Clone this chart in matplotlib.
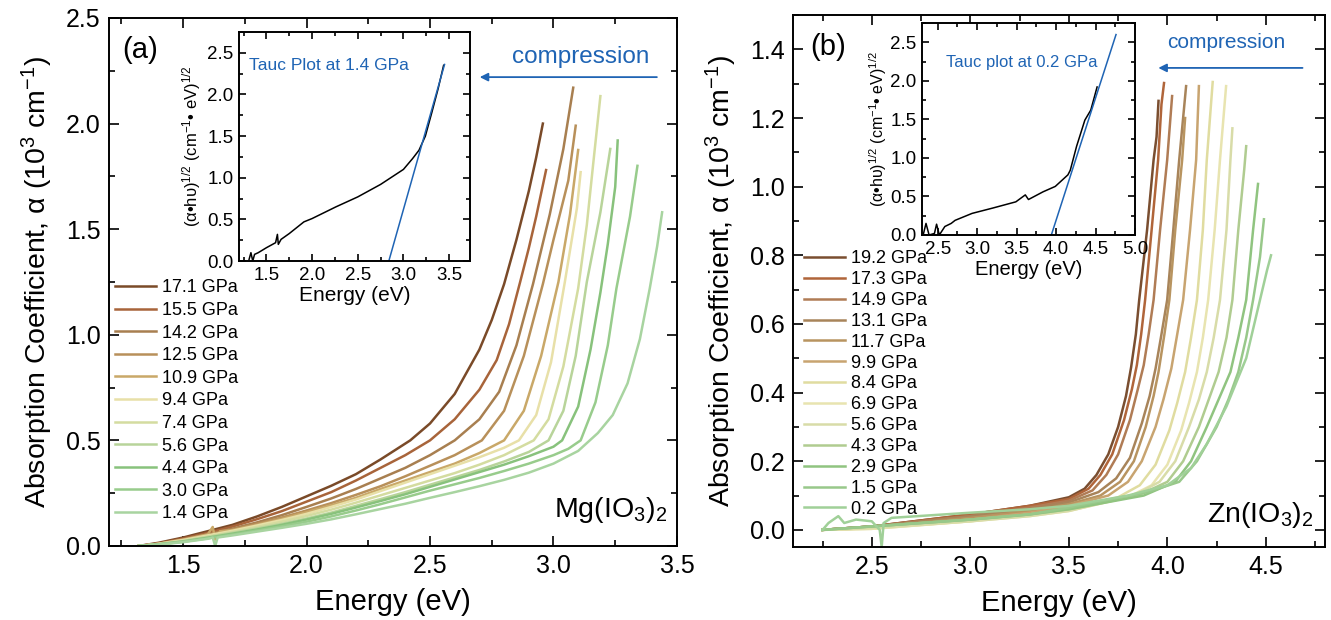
import matplotlib
matplotlib.use("Agg")
import matplotlib.pyplot as plt
from matplotlib.ticker import MultipleLocator

plt.rcParams['font.family'] = ['Liberation Sans', 'DejaVu Sans']
plt.rcParams['mathtext.fontset'] = 'custom'
plt.rcParams['mathtext.rm'] = 'Liberation Sans'
plt.rcParams['mathtext.it'] = 'Liberation Sans:italic'

# ---- Mg(IO3)2, absorption edges (energy in eV, alpha in 10^3 cm^-1)
mg_labels = ['17.1 GPa', '15.5 GPa', '14.2 GPa', '12.5 GPa', '10.9 GPa', '9.4 GPa',
             '7.4 GPa', '5.6 GPa', '4.4 GPa', '3.0 GPa', '1.4 GPa']
mg_energy = [
    [1.32, 1.4, 1.5, 1.6, 1.7, 1.8, 1.9, 2.0, 2.1, 2.2, 2.3, 2.42, 2.5, 2.6, 2.7, 2.75, 2.8,
     2.85, 2.9, 2.93, 2.957],
    [1.32, 1.4, 1.5, 1.6, 1.7, 1.8, 1.9, 2.0, 2.1, 2.2, 2.3, 2.4, 2.5, 2.6, 2.7, 2.77, 2.82,
     2.865, 2.9, 2.93, 2.97],
    [1.32, 1.4, 1.5, 1.6, 1.7, 1.8, 1.9, 2.0, 2.1, 2.2, 2.3, 2.4, 2.5, 2.6, 2.7, 2.78, 2.85,
     2.917, 2.985, 3.04, 3.08],
    [1.32, 1.4, 1.5, 1.6, 1.7, 1.8, 1.9, 2.0, 2.1, 2.2, 2.3, 2.4, 2.5, 2.6, 2.71, 2.8, 2.88,
     2.957, 3.0, 3.06, 3.09],
    [1.32, 1.4, 1.5, 1.6, 1.62, 1.63, 1.65, 1.7, 1.8, 1.9, 2.0, 2.1, 2.2, 2.3, 2.4, 2.5, 2.6,
     2.7, 2.8, 2.88, 2.95, 3.02, 3.067, 3.10],
    [1.32, 1.4, 1.5, 1.6, 1.7, 1.8, 1.9, 2.0, 2.1, 2.2, 2.3, 2.4, 2.5, 2.6, 2.7, 2.8, 2.86,
     2.93, 2.99, 3.046, 3.095, 3.11],
    [1.32, 1.4, 1.5, 1.6, 1.7, 1.8, 1.9, 2.0, 2.1, 2.2, 2.3, 2.4, 2.5, 2.6, 2.7, 2.8, 2.92,
     2.98, 3.04, 3.10, 3.135, 3.16, 3.19],
    [1.32, 1.4, 1.5, 1.6, 1.7, 1.8, 1.9, 2.0, 2.1, 2.2, 2.3, 2.4, 2.5, 2.6, 2.7, 2.8, 2.9,
     2.98, 3.04, 3.09, 3.135, 3.19, 3.23],
    [1.32, 1.4, 1.5, 1.6, 1.7, 1.8, 1.9, 2.0, 2.1, 2.2, 2.3, 2.4, 2.5, 2.6, 2.7, 2.8, 2.9,
     3.0, 3.035, 3.1, 3.15, 3.19, 3.22, 3.25, 3.26],
    [1.32, 1.4, 1.5, 1.6, 1.7, 1.8, 1.9, 2.0, 2.1, 2.2, 2.3, 2.4, 2.5, 2.6, 2.7, 2.8, 2.9,
     3.0, 3.06, 3.11, 3.17, 3.22, 3.255, 3.31, 3.34],
    [1.32, 1.4, 1.5, 1.6, 1.62, 1.63, 1.64, 1.7, 1.8, 1.9, 2.0, 2.1, 2.2, 2.3, 2.4, 2.5, 2.6,
     2.7, 2.8, 2.9, 3.0, 3.1, 3.18, 3.24, 3.3, 3.35, 3.39, 3.42, 3.44],
]
mg_alpha = [
    [0.0, 0.015, 0.04, 0.07, 0.1, 0.14, 0.185, 0.235, 0.285, 0.34, 0.41, 0.5, 0.58, 0.72,
     0.93, 1.07, 1.24, 1.45, 1.68, 1.84, 2.0],
    [0.0, 0.012, 0.035, 0.062, 0.092, 0.127, 0.165, 0.21, 0.255, 0.31, 0.37, 0.43, 0.5, 0.6,
     0.74, 0.88, 1.05, 1.25, 1.41, 1.56, 1.78],
    [0.0, 0.01, 0.03, 0.055, 0.082, 0.112, 0.146, 0.185, 0.225, 0.27, 0.32, 0.37, 0.43, 0.5,
     0.6, 0.73, 0.95, 1.24, 1.57, 1.88, 2.17],
    [0.0, 0.01, 0.03, 0.052, 0.077, 0.105, 0.135, 0.168, 0.203, 0.242, 0.283, 0.33, 0.38,
     0.43, 0.5, 0.64, 0.9, 1.24, 1.45, 1.73, 1.99],
    [0.0, 0.01, 0.03, 0.055, 0.09, 0.03, 0.07, 0.075, 0.1, 0.128, 0.16, 0.193, 0.228, 0.27,
     0.31, 0.35, 0.39, 0.44, 0.5, 0.64, 0.9, 1.25, 1.57, 1.875],
    [0.0, 0.01, 0.028, 0.05, 0.072, 0.097, 0.123, 0.152, 0.185, 0.22, 0.26, 0.3, 0.34, 0.38,
     0.42, 0.465, 0.5, 0.62, 0.87, 1.25, 1.6, 1.77],
    [0.0, 0.008, 0.025, 0.045, 0.067, 0.09, 0.115, 0.142, 0.172, 0.205, 0.24, 0.275, 0.31,
     0.345, 0.385, 0.43, 0.5, 0.6, 0.85, 1.22, 1.52, 1.8, 2.13],
    [0.0, 0.008, 0.023, 0.042, 0.062, 0.083, 0.105, 0.13, 0.158, 0.19, 0.222, 0.255, 0.29,
     0.325, 0.36, 0.4, 0.445, 0.5, 0.64, 0.9, 1.25, 1.58, 1.88],
    [0.0, 0.008, 0.021, 0.039, 0.058, 0.078, 0.1, 0.125, 0.152, 0.182, 0.213, 0.245, 0.28,
     0.315, 0.35, 0.385, 0.425, 0.47, 0.5, 0.66, 0.93, 1.2, 1.43, 1.7, 1.92],
    [0.0, 0.007, 0.02, 0.036, 0.054, 0.073, 0.093, 0.115, 0.14, 0.168, 0.198, 0.23, 0.262,
     0.292, 0.322, 0.355, 0.39, 0.43, 0.46, 0.5, 0.68, 0.95, 1.22, 1.56, 1.80],
    [0.0, 0.006, 0.018, 0.034, 0.04, 0.0, 0.04, 0.05, 0.068, 0.086, 0.105, 0.126, 0.15,
     0.175, 0.2, 0.228, 0.255, 0.283, 0.313, 0.347, 0.39, 0.45, 0.535, 0.62, 0.77, 0.98, 1.22,
     1.42, 1.58],
]
mg_colors = ['#7a4a28', '#a8643a', '#a87f50', '#b8905a', '#c9a868', '#e8e0a8',
             '#d4dca0', '#b8d49a', '#88c27c', '#98cc8c', '#a8d4a0']

# Tauc plot at 1.4 GPa, (alpha*hv)^1/2
mg_tauc_e = [1.31, 1.33, 1.35, 1.37, 1.41, 1.5, 1.6, 1.62, 1.63, 1.66, 1.75, 1.91, 2.0,
             2.26, 2.5, 2.75, 3.0, 3.1, 3.17, 3.24, 3.31, 3.38, 3.44]
mg_tauc_y = [0.02, 0.1, 0.0, 0.08, 0.1, 0.16, 0.22, 0.32, 0.2, 0.26, 0.33, 0.47, 0.51,
             0.65, 0.77, 0.92, 1.1, 1.23, 1.33, 1.5, 1.78, 2.07, 2.35]
mg_fit_e = [2.84, 3.45]
mg_fit_y = [0.0, 2.36]

# ---- Zn(IO3)2
zn_labels = ['19.2 GPa', '17.3 GPa', '14.9 GPa', '13.1 GPa', '11.7 GPa', '9.9 GPa', '8.4 GPa',
             '6.9 GPa', '5.6 GPa', '4.3 GPa', '2.9 GPa', '1.5 GPa', '0.2 GPa']
zn_energy = [
    [2.25, 2.5, 3.0, 3.3, 3.5, 3.58, 3.64, 3.7, 3.75, 3.79, 3.816, 3.84, 3.857, 3.897, 3.93,
     3.945, 3.955],
    [2.25, 2.5, 3.0, 3.3, 3.5, 3.6, 3.66, 3.72, 3.78, 3.82, 3.845, 3.867, 3.887, 3.92, 3.953,
     3.97, 3.983],
    [2.25, 2.5, 3.0, 3.3, 3.5, 3.62, 3.69, 3.75, 3.81, 3.85, 3.88, 3.905, 3.93, 3.963, 3.999,
     4.024],
    [2.25, 2.5, 3.0, 3.3, 3.5, 3.65, 3.74, 3.81, 3.87, 3.91, 3.94, 3.97, 3.999, 4.03, 4.06,
     4.095],
    [2.25, 2.5, 3.0, 3.3, 3.5, 3.66, 3.76, 3.83, 3.89, 3.93, 3.955, 3.985, 4.01, 4.04, 4.075,
     4.09],
    [2.25, 2.5, 3.0, 3.3, 3.5, 3.7, 3.8, 3.87, 3.94, 3.98, 4.02, 4.05, 4.08, 4.115, 4.146,
     4.16],
    [2.25, 2.5, 3.0, 3.3, 3.5, 3.75, 3.86, 3.94, 4.01, 4.05, 4.09, 4.12, 4.15, 4.18, 4.20,
     4.23],
    [2.25, 2.5, 3.0, 3.3, 3.5, 3.8, 3.92, 4.0, 4.07, 4.11, 4.15, 4.18, 4.207, 4.24, 4.267,
     4.298],
    [2.25, 2.5, 3.0, 3.3, 3.5, 3.83, 3.96, 4.04, 4.11, 4.16, 4.2, 4.235, 4.267, 4.30, 4.32,
     4.33],
    [2.25, 2.5, 3.0, 3.3, 3.5, 3.85, 4.0, 4.08, 4.16, 4.21, 4.26, 4.3, 4.33, 4.36, 4.39, 4.40],
    [2.25, 2.5, 3.0, 3.3, 3.5, 3.88, 4.04, 4.12, 4.2, 4.26, 4.32, 4.36, 4.40, 4.435, 4.46],
    [2.25, 2.5, 3.0, 3.3, 3.5, 3.9, 4.06, 4.15, 4.25, 4.31, 4.36, 4.40, 4.435, 4.47, 4.49],
    [2.25, 2.28, 2.33, 2.36, 2.42, 2.5, 2.54, 2.55, 2.56, 2.6, 3.0, 3.3, 3.5, 3.8, 4.0,
     4.12, 4.2, 4.3, 4.4, 4.47, 4.506, 4.526],
]
zn_alpha = [
    [0.0, 0.01, 0.045, 0.07, 0.095, 0.12, 0.16, 0.22, 0.30, 0.39, 0.474, 0.57, 0.67, 0.874,
     1.078, 1.145, 1.25],
    [0.0, 0.01, 0.045, 0.07, 0.09, 0.12, 0.16, 0.22, 0.32, 0.41, 0.48, 0.57, 0.67, 0.874,
     1.078, 1.24, 1.302],
    [0.0, 0.01, 0.04, 0.065, 0.085, 0.115, 0.16, 0.22, 0.32, 0.41, 0.48, 0.57, 0.67, 0.874,
     1.078, 1.264],
    [0.0, 0.01, 0.04, 0.06, 0.08, 0.11, 0.15, 0.21, 0.31, 0.39, 0.47, 0.57, 0.67, 0.874,
     1.078, 1.293],
    [0.0, 0.008, 0.035, 0.055, 0.075, 0.1, 0.14, 0.2, 0.3, 0.39, 0.46, 0.57, 0.67, 0.874,
     1.078, 1.2],
    [0.0, 0.005, 0.03, 0.05, 0.07, 0.1, 0.14, 0.2, 0.3, 0.38, 0.47, 0.57, 0.67, 0.874,
     1.078, 1.293],
    [0.0, 0.003, 0.025, 0.045, 0.06, 0.095, 0.13, 0.19, 0.29, 0.37, 0.46, 0.56, 0.67, 0.874,
     1.078, 1.305],
    [0.0, 0.003, 0.025, 0.04, 0.055, 0.095, 0.13, 0.19, 0.29, 0.37, 0.46, 0.56, 0.67, 0.874,
     1.078, 1.293],
    [0.0, 0.005, 0.025, 0.04, 0.055, 0.1, 0.14, 0.2, 0.3, 0.38, 0.46, 0.56, 0.67, 0.874,
     1.078, 1.17],
    [0.0, 0.01, 0.03, 0.045, 0.06, 0.1, 0.14, 0.2, 0.3, 0.38, 0.46, 0.56, 0.67, 0.874, 1.05,
     1.118],
    [0.0, 0.01, 0.03, 0.045, 0.06, 0.1, 0.14, 0.2, 0.3, 0.38, 0.46, 0.56, 0.67, 0.874, 1.008],
    [0.0, 0.01, 0.03, 0.045, 0.065, 0.11, 0.14, 0.2, 0.3, 0.38, 0.46, 0.56, 0.67, 0.795,
     0.905],
    [0.0, 0.02, 0.04, 0.02, 0.03, 0.025, 0.0, -0.05, 0.02, 0.035, 0.05, 0.06, 0.07, 0.1, 0.13,
     0.18, 0.25, 0.36, 0.5, 0.67, 0.757, 0.8],
]
zn_colors = ['#7a4e30', '#b0653a', '#b07c55', '#a8845a', '#b89460', '#c8a470', '#e0dca0',
             '#e8e4b0', '#d8dca8', '#b0cc90', '#90c480', '#98c88a', '#a0d098']

# Tauc plot at 0.2 GPa
zn_tauc_e = [2.315, 2.351, 2.39, 2.458, 2.485, 2.52, 2.59, 2.67, 2.72, 2.935, 3.2, 3.49, 3.61,
             3.65, 3.835, 3.99, 4.15, 4.18, 4.26, 4.365, 4.44, 4.52]
zn_tauc_y = [0.0, 0.15, 0.0, 0.02, 0.14, 0.0, 0.11, 0.15, 0.19, 0.28, 0.35, 0.43, 0.52,
             0.46, 0.56, 0.63, 0.78, 0.84, 1.15, 1.49, 1.62, 1.92]
zn_fit_e = [3.94, 4.76]
zn_fit_y = [0.0, 2.6]

BLUE = '#1f64b4'
INSET_YLABEL = '(α•hυ)$^{1/2}$ (cm$^{-1}$• eV)$^{1/2}$'
MAIN_YLABEL = 'Absorption Coefficient, α (10$^3$ cm$^{-1}$)'


def style_axes(ax, size, major_len=7, minor_len=4, pad=6):
    ax.tick_params(which='both', direction='in', top=True, right=True, width=1.2,
                   labelsize=size, pad=pad)
    ax.tick_params(which='major', length=major_len)
    ax.tick_params(which='minor', length=minor_len)
    for s in ax.spines.values():
        s.set_linewidth(1.4)


def set_locators(ax, xmaj, xmin, ymaj, ymin):
    ax.xaxis.set_major_locator(MultipleLocator(xmaj))
    ax.xaxis.set_minor_locator(MultipleLocator(xmin))
    ax.yaxis.set_major_locator(MultipleLocator(ymaj))
    ax.yaxis.set_minor_locator(MultipleLocator(ymin))


fig = plt.figure(figsize=(13.31, 6.2), dpi=100)

# ------------------ panel (a)
ax1 = fig.add_axes([0.0819, 0.1194, 0.4267, 0.8516])
for e, a, c, lab in zip(mg_energy, mg_alpha, mg_colors, mg_labels):
    ax1.plot(e, a, color=c, lw=1.8, label=lab)
ax1.set_xlim(1.2, 3.5)
ax1.set_ylim(0, 2.5)
set_locators(ax1, 0.5, 0.25, 0.5, 0.25)
style_axes(ax1, 18)
ax1.set_xlabel('Energy (eV)', fontsize=21, labelpad=7)
ax1.set_ylabel(MAIN_YLABEL, fontsize=20.5, labelpad=8)
ax1.legend(loc='upper left', bbox_to_anchor=(0.01, 0.505), frameon=False, fontsize=13,
           handlelength=2.3, handletextpad=0.3, labelspacing=0.31, borderaxespad=0,
           borderpad=0)
ax1.text(0.054, 0.94, '(a)', transform=ax1.transAxes, fontsize=21, ha='center', va='center')
ax1.text(0.982, 0.068, 'Mg(IO$_3$)$_2$', transform=ax1.transAxes, fontsize=20.5,
         ha='right', va='center')
ax1.text(3.11, 2.315, 'compression', color=BLUE, fontsize=17.5, ha='center', va='center')
ax1.annotate('', xy=(2.69, 2.22), xytext=(3.43, 2.22),
             arrowprops=dict(arrowstyle='-|>', color=BLUE, lw=1.3, mutation_scale=12))

# inset (a)
ins1 = fig.add_axes([0.1796, 0.579, 0.1736, 0.3694])
ins1.plot(mg_tauc_e, mg_tauc_y, color='black', lw=1.1)
ins1.plot(mg_fit_e, mg_fit_y, color=BLUE, lw=1.1)
ins1.set_xlim(1.2, 3.73)
ins1.set_ylim(0, 2.75)
set_locators(ins1, 0.5, 0.25, 0.5, 0.25)
style_axes(ins1, 13.5, 5, 3, pad=4)
ins1.set_xlabel('Energy (eV)', fontsize=15, labelpad=2)
ins1.set_ylabel(INSET_YLABEL, fontsize=12, labelpad=3)
ins1.text(1.31, 2.35, 'Tauc Plot at 1.4 GPa', color=BLUE, fontsize=12.5, va='center')

# ------------------ panel (b)
ax2 = fig.add_axes([0.5958, 0.1177, 0.3997, 0.858])
for e, a, c, lab in zip(zn_energy, zn_alpha, zn_colors, zn_labels):
    ax2.plot(e, a, color=c, lw=1.8, label=lab)
ax2.set_xlim(2.1, 4.8)
ax2.set_ylim(-0.05, 1.5)
set_locators(ax2, 0.5, 0.25, 0.2, 0.1)
style_axes(ax2, 18)
ax2.set_xlabel('Energy (eV)', fontsize=21, labelpad=7)
ax2.set_ylabel(MAIN_YLABEL, fontsize=20.5, labelpad=8)
ax2.legend(loc='upper left', bbox_to_anchor=(0.02, 0.558), frameon=False, fontsize=13,
           handlelength=2.3, handletextpad=0.3, labelspacing=0.215, borderaxespad=0,
           borderpad=0)
ax2.text(0.066, 0.94, '(b)', transform=ax2.transAxes, fontsize=21, ha='center', va='center')
ax2.text(0.979, 0.06, 'Zn(IO$_3$)$_2$', transform=ax2.transAxes, fontsize=20.5,
         ha='right', va='center')
ax2.text(4.30, 1.421, 'compression', color=BLUE, fontsize=15, ha='center', va='center')
ax2.annotate('', xy=(3.94, 1.346), xytext=(4.70, 1.346),
             arrowprops=dict(arrowstyle='-|>', color=BLUE, lw=1.3, mutation_scale=12))

# inset (b)
ins2 = fig.add_axes([0.6927, 0.621, 0.16, 0.3419])
ins2.plot(zn_tauc_e, zn_tauc_y, color='black', lw=1.1)
ins2.plot(zn_fit_e, zn_fit_y, color=BLUE, lw=1.1)
ins2.set_xlim(2.3, 5.0)
ins2.set_ylim(0, 2.75)
set_locators(ins2, 0.5, 0.25, 0.5, 0.25)
style_axes(ins2, 13.5, 5, 3, pad=4)
ins2.set_xlabel('Energy (eV)', fontsize=14.5, labelpad=2)
ins2.set_ylabel(INSET_YLABEL, fontsize=11.5, labelpad=1)
ins2.text(2.61, 2.24, 'Tauc plot at 0.2 GPa', color=BLUE, fontsize=12, va='center')

fig.savefig('out.png', dpi=100)
